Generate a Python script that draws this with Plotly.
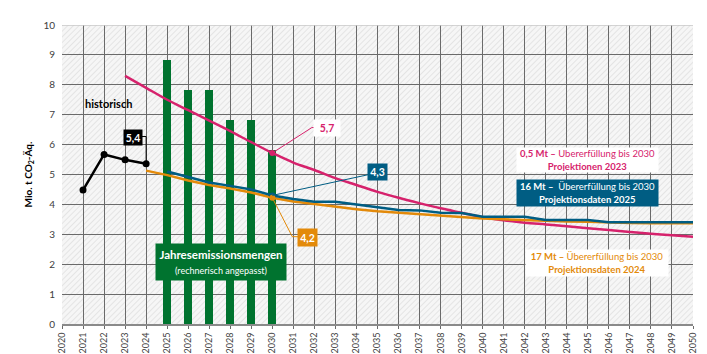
import base64
import plotly.graph_objects as go

# ---------------- data ----------------
years_hist = [2021, 2022, 2023, 2024]
hist = [4.48, 5.67, 5.49, 5.36]

years_bar = [2025, 2026, 2027, 2028, 2029, 2030]
jem = [8.83, 7.83, 7.83, 6.82, 6.82, 5.82]

years_p23 = list(range(2023, 2051))
p23 = [8.3, 7.9, 7.5, 7.15, 6.8, 6.45, 6.08, 5.72, 5.4, 5.15, 4.88, 4.65, 4.42, 4.22,
       4.04, 3.87, 3.72, 3.57, 3.47, 3.39, 3.33, 3.27, 3.2, 3.14, 3.08, 3.02, 2.97, 2.92]

years_p25 = list(range(2025, 2051))
p25 = [5.1, 4.92, 4.73, 4.62, 4.5, 4.3, 4.18, 4.09, 4.09, 4.0, 3.9, 3.81, 3.8, 3.72,
       3.71, 3.59, 3.59, 3.59, 3.48, 3.48, 3.48, 3.4, 3.4, 3.4, 3.4, 3.4]

years_p24 = list(range(2024, 2051))
p24 = [5.13, 4.98, 4.8, 4.65, 4.53, 4.4, 4.22, 4.1, 4.01, 3.92, 3.84, 3.77, 3.72, 3.67,
       3.62, 3.57, 3.53, 3.5, 3.47, 3.45, 3.43, 3.42, 3.39, 3.38, 3.37, 3.37, 3.37]

x_ticks = list(range(2020, 2051))
y_ticks = list(range(0, 11))

X_MIN, X_MAX = 2020, 2050
Y_MIN, Y_MAX = 0, 10

PINK = "#d6226c"
BLUE = "#005d83"
ORANGE = "#e38a0a"
GREEN = "#00732f"
FONT = "Lato"

# hatched background as an svg image
svg = ("<svg xmlns='http://www.w3.org/2000/svg' width='631' height='299'>"
       "<defs><pattern id='h' width='4' height='4' patternUnits='userSpaceOnUse' patternTransform='rotate(45)'>"
       "<rect width='4' height='4' fill='#f6f6f6'/><line x1='0' y1='0' x2='0' y2='4' stroke='#d9d9d9' stroke-width='1.2'/>"
       "</pattern></defs><rect width='631' height='299' fill='url(#h)'/></svg>")
bg_src = "data:image/svg+xml;base64," + base64.b64encode(svg.encode()).decode()

fig = go.Figure()

fig.add_trace(go.Bar(x=years_bar, y=jem, width=0.38, marker=dict(color=GREEN, line=dict(width=0)),
                     showlegend=False))

fig.add_trace(go.Scatter(x=years_p23, y=p23, mode="lines", line=dict(color=PINK, width=2.5, shape="spline"),
                         showlegend=False))
fig.add_trace(go.Scatter(x=years_p24, y=p24, mode="lines", line=dict(color=ORANGE, width=2.5),
                         showlegend=False))
fig.add_trace(go.Scatter(x=years_p25, y=p25, mode="lines", line=dict(color=BLUE, width=2.5),
                         showlegend=False))
fig.add_trace(go.Scatter(x=years_hist, y=hist, mode="lines+markers",
                         line=dict(color="black", width=2.5), marker=dict(color="black", size=7),
                         showlegend=False))

# 2030 markers
i23 = years_p23.index(2030); i24 = years_p24.index(2030); i25 = years_p25.index(2030)
fig.add_trace(go.Scatter(x=[2030], y=[p23[i23]], mode="markers", marker=dict(color=PINK, size=6), showlegend=False))
fig.add_trace(go.Scatter(x=[2030], y=[p25[i25]], mode="markers", marker=dict(color=BLUE, size=6), showlegend=False))
fig.add_trace(go.Scatter(x=[2030], y=[p24[i24]], mode="markers", marker=dict(color=ORANGE, size=6), showlegend=False))

# leader lines
fig.add_shape(type="path", path=f"M 2023.8 6.27 L 2024 6.27 L 2024 {hist[-1]}", line=dict(color="black", width=1))
fig.add_shape(type="path", path=f"M 2030 {p23[i23]} L 2031.88 6.57 L 2032.2 6.57", line=dict(color=PINK, width=1))
fig.add_shape(type="path", path=f"M 2030 {p25[i25]} L 2034.6 5.0", line=dict(color=BLUE, width=1))
fig.add_shape(type="path", path=f"M 2030 {p24[i24]} L 2030.95 2.92 L 2031.3 2.92", line=dict(color=ORANGE, width=1))
# light top border
fig.add_shape(type="line", xref="paper", yref="y", x0=0, x1=1, y0=Y_MAX, y1=Y_MAX,
              line=dict(color="#c8c8c8", width=1.5))

fig.add_layout_image(dict(source=bg_src, xref="x", yref="y", x=X_MIN, y=Y_MAX,
                          sizex=X_MAX - X_MIN, sizey=Y_MAX - Y_MIN, sizing="stretch",
                          xanchor="left", yanchor="top", layer="below"))

ann = []
ann.append(dict(x=2022.19, y=7.36, text="<b>historisch</b>", showarrow=False,
                font=dict(family=FONT, size=11, color="black")))
ann.append(dict(x=2023.38, y=6.24, text="<b>5,4</b>", showarrow=False, bgcolor="black",
                width=16, height=13, font=dict(family=FONT, size=10.5, color="white")))
ann.append(dict(x=2032.58, y=6.57, text="<b>5,7</b>", showarrow=False, bgcolor="white",
                width=24, height=14, font=dict(family=FONT, size=10.5, color=PINK)))
ann.append(dict(x=2034.98, y=5.07, text="<b>4,3</b>", showarrow=False, bgcolor=BLUE,
                width=17, height=14, font=dict(family=FONT, size=10.5, color="white")))
ann.append(dict(x=2031.65, y=2.89, text="<b>4,2</b>", showarrow=False, bgcolor=ORANGE,
                width=17, height=15, font=dict(family=FONT, size=10.5, color="white")))
ann.append(dict(x=2027.56, y=2.07,
                text="<b>Jahresemissionsmengen</b><br><span style='font-size:9px'>(rechnerisch angepasst)</span>",
                showarrow=False, bgcolor=GREEN, width=128, height=34,
                font=dict(family=FONT, size=11.5, color="white")))
ann.append(dict(x=2045.0, y=5.48,
                text="<b>0,5 Mt –</b> Übererfüllung bis 2030<br><b>Projektionen 2023</b>",
                showarrow=False, bgcolor="white", width=139, height=22,
                font=dict(family=FONT, size=9.5, color=PINK)))
ann.append(dict(x=2045.0, y=4.38,
                text="<b>16 Mt –</b>  Übererfüllung bis 2030<br><b>Projektionsdaten 2025</b>",
                showarrow=False, bgcolor=BLUE, width=139, height=24,
                font=dict(family=FONT, size=9.5, color="white")))
ann.append(dict(x=2045.44, y=2.04,
                text="<b>17 Mt – </b>Übererfüllung bis 2030<br><b>Projektionsdaten 2024</b>",
                showarrow=False, bgcolor="white", width=140, height=24,
                font=dict(family=FONT, size=9.5, color=ORANGE)))
for a in ann:
    a.update(xref="x", yref="y", borderpad=1)

fig.update_layout(
    width=707, height=354, margin=dict(l=62, r=14, t=25, b=30, autoexpand=False),
    paper_bgcolor="white", plot_bgcolor="#f0f0f0",
    font=dict(family=FONT, size=10, color="#404040"),
    annotations=ann, showlegend=False, bargap=0,
    xaxis=dict(range=[X_MIN, X_MAX], tickvals=x_ticks, ticktext=[str(v) for v in x_ticks],
               tickangle=-90, tickfont=dict(size=9, color="#404040"), automargin=False,
               showgrid=True, gridcolor="#6a6a6a", gridwidth=1.3,
               showline=True, linecolor="#8a8a8a", linewidth=2,
               ticks="outside", ticklen=3, tickcolor="#6a6a6a", zeroline=False),
    yaxis=dict(range=[Y_MIN, Y_MAX], tickvals=y_ticks, tickfont=dict(size=10, color="#404040"),
               showgrid=True, gridcolor="#6a6a6a", gridwidth=1.3, zeroline=False, automargin=False,
               showline=False, ticks="", ticklabelstandoff=6,
               title=dict(text="<b>Mio. t CO<sub>2</sub>-Äq.</b>", font=dict(size=10, color="black"), standoff=8)),
)

fig.write_html("out.html")
